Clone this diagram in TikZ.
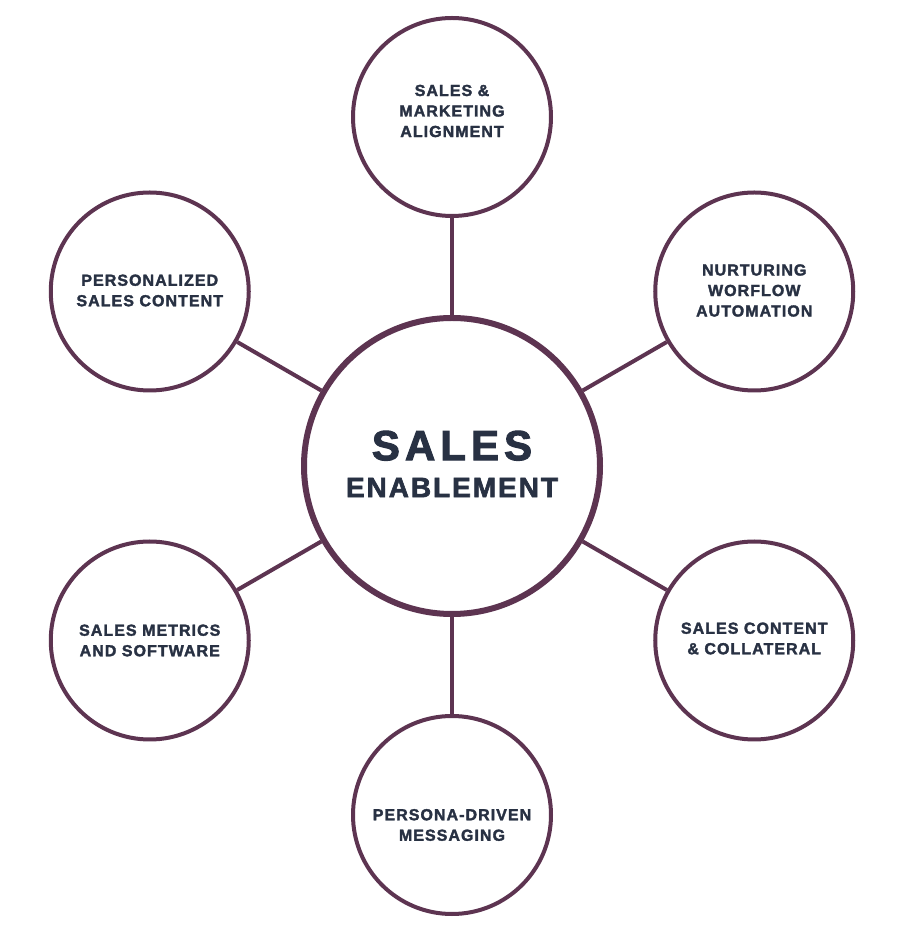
\documentclass[tikz,border=0pt]{standalone}
\usepackage{fontspec}
\usetikzlibrary{calc}
\setmainfont{Liberation Sans}
\newfontfamily\smallfnt[LetterSpace=6.5,FakeBold=2]{Liberation Sans Bold}
\newfontfamily\midfnt[LetterSpace=7,FakeBold=2.2]{Liberation Sans Bold}
\newfontfamily\bigfnt[LetterSpace=12,FakeBold=2.5]{Liberation Sans Bold}
\definecolor{ring}{HTML}{5D3451}
\definecolor{ink}{HTML}{283143}
\begin{document}
\begin{tikzpicture}[x=1pt,y=1pt,
  hubring/.style={circle,draw=ring,line width=6pt,minimum size=296pt,inner sep=0pt,fill=white},
  spokering/.style={circle,draw=ring,line width=4pt,minimum size=198pt,inner sep=0pt,fill=white},
  hubtext/.style={text=ink,align=center,inner sep=0pt,font=\midfnt\fontsize{28}{37}\selectfont},
  spoketext/.style={text=ink,align=center,inner sep=0pt,font=\smallfnt\fontsize{16}{20.5}\selectfont},
  link/.style={draw=ring,line width=4pt}]
\useasboundingbox (0,0) rectangle (900,935);
\node[hubring] (c) at (452,469) {};
\node[spokering] (t) at ($(c)+(90:349)$) {};
\node[spokering] (tr) at ($(c)+(30:349)$) {};
\node[spokering] (br) at ($(c)+(-30:349)$) {};
\node[spokering] (b) at ($(c)+(-90:349)$) {};
\node[spokering] (bl) at ($(c)+(-150:349)$) {};
\node[spokering] (tl) at ($(c)+(150:349)$) {};
\foreach \n in {t,tr,br,b,bl,tl} \draw[link] (c) -- (\n);
\node[hubtext] (ct) at ($(c)+(0,2)$) {{\bigfnt\fontsize{42}{37}\selectfont SALES}\\ENABLEMENT};
\node[spoketext] (tt) at ($(t)+(0,6)$) {SALES \&\\MARKETING\\ALIGNMENT};
\node[spoketext] (trt) at ($(tr)+(0,1)$) {NURTURING\\WORFLOW\\AUTOMATION};
\node[spoketext] (brt) at ($(br)+(0,2)$) {SALES CONTENT\\\& COLLATERAL};
\node[spoketext] (bt) at ($(b)+(0,-10)$) {PERSONA-DRIVEN\\MESSAGING};
\node[spoketext] (blt) at ($(bl)+(0,0)$) {SALES METRICS\\AND SOFTWARE};
\node[spoketext] (tlt) at ($(tl)+(0,1)$) {PERSONALIZED\\SALES CONTENT};
\end{tikzpicture}
\end{document}
